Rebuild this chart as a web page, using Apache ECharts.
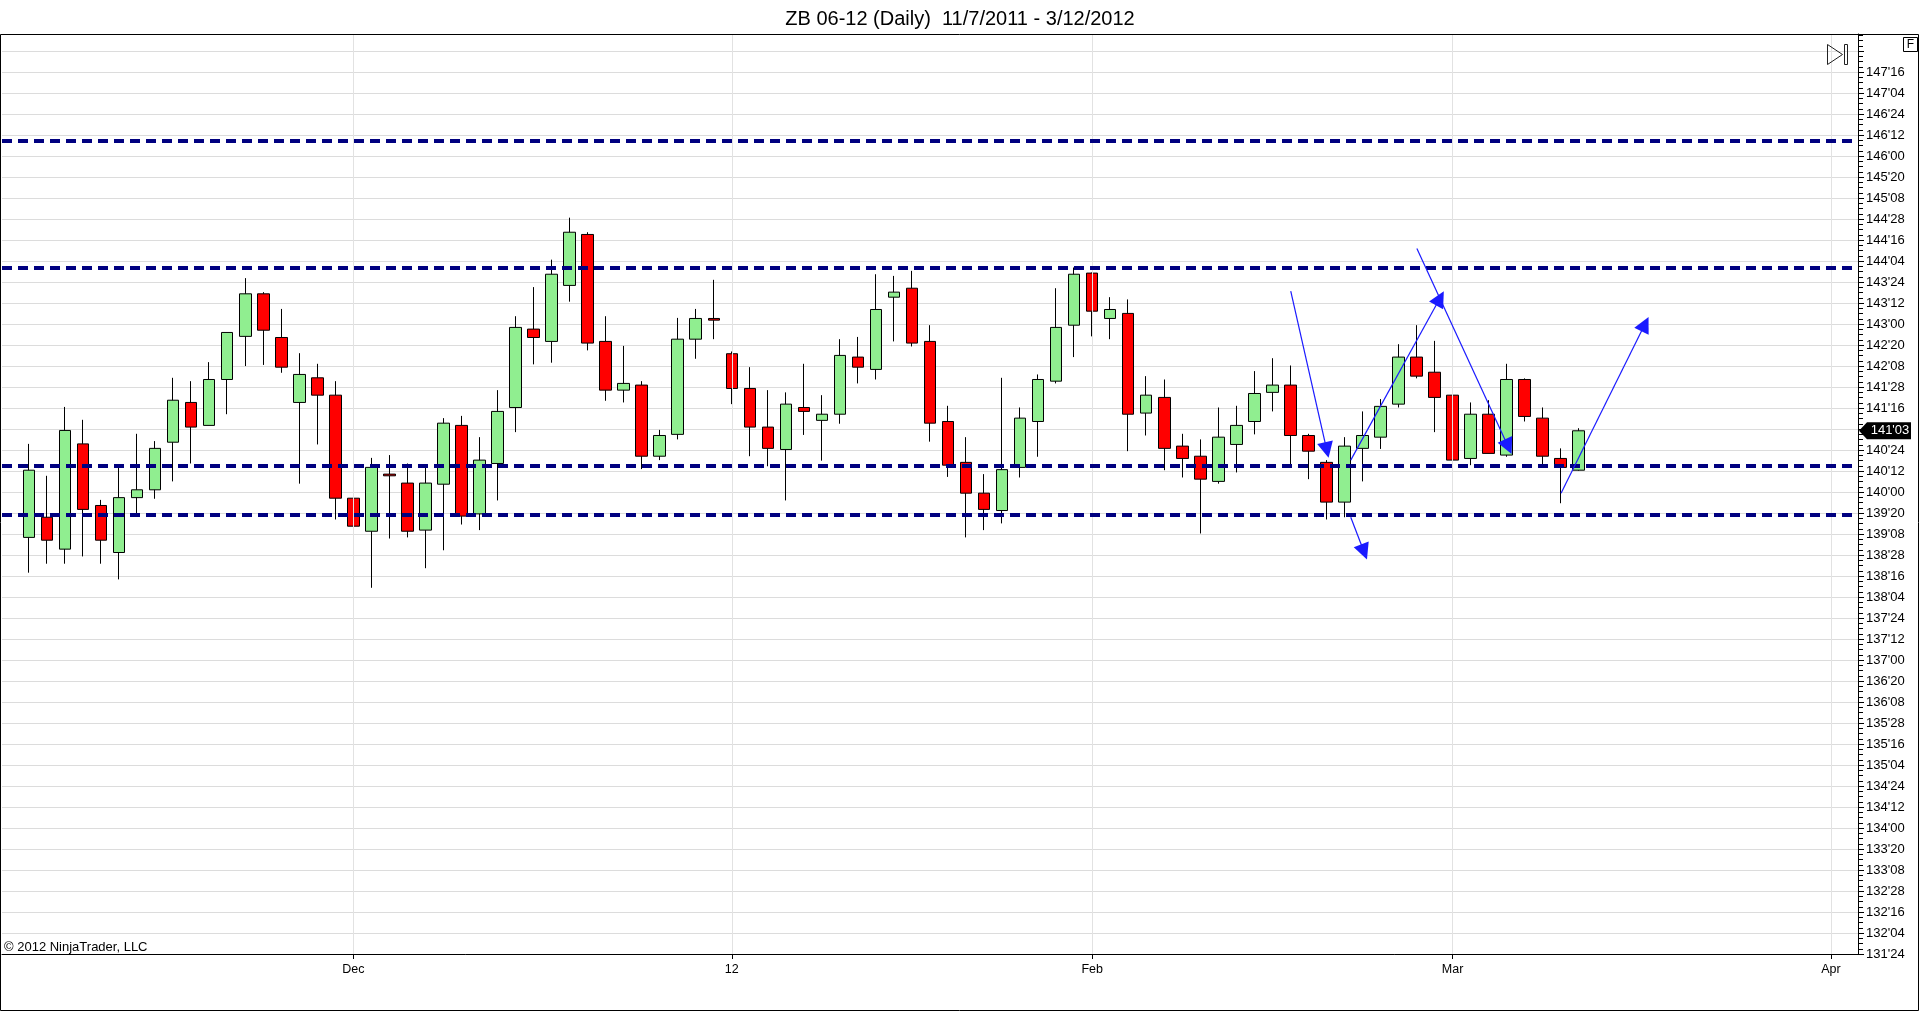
<!DOCTYPE html>
<html><head><meta charset="utf-8">
<script src="https://cdn.jsdelivr.net/npm/echarts@6/dist/echarts.min.js"></script>
<style>html,body{margin:0;padding:0;background:#fff;}#chart{width:1920px;height:1012px;}</style>
</head><body><div id="chart"></div>
<script>
// ---------- data ----------
const leadDates = ['2011-11-04'];
const tradingDates = [
'2011-11-07','2011-11-08','2011-11-09','2011-11-10','2011-11-11','2011-11-14','2011-11-15','2011-11-16','2011-11-17','2011-11-18','2011-11-21','2011-11-22','2011-11-23','2011-11-24','2011-11-25','2011-11-28','2011-11-29','2011-11-30',
'2011-12-01','2011-12-02','2011-12-05','2011-12-06','2011-12-07','2011-12-08','2011-12-09','2011-12-12','2011-12-13','2011-12-14','2011-12-15','2011-12-16','2011-12-19','2011-12-20','2011-12-21','2011-12-22','2011-12-23','2011-12-27','2011-12-28','2011-12-29','2011-12-30',
'2012-01-03','2012-01-04','2012-01-05','2012-01-06','2012-01-09','2012-01-10','2012-01-11','2012-01-12','2012-01-13','2012-01-17','2012-01-18','2012-01-19','2012-01-20','2012-01-23','2012-01-24','2012-01-25','2012-01-26','2012-01-27','2012-01-30','2012-01-31',
'2012-02-01','2012-02-02','2012-02-03','2012-02-06','2012-02-07','2012-02-08','2012-02-09','2012-02-10','2012-02-13','2012-02-14','2012-02-15','2012-02-16','2012-02-17','2012-02-21','2012-02-22','2012-02-23','2012-02-24','2012-02-27','2012-02-28','2012-02-29',
'2012-03-01','2012-03-02','2012-03-05','2012-03-06','2012-03-07','2012-03-08','2012-03-09','2012-03-12'];
const futureDates = ['2012-03-13','2012-03-14','2012-03-15','2012-03-16','2012-03-19','2012-03-20','2012-03-21','2012-03-22','2012-03-23','2012-03-26','2012-03-27','2012-03-28','2012-03-29','2012-04-02','2012-04-03'];

const opens = [139.19,139.55,138.98,140.86,139.76,138.92,139.90,140.04,140.89,141.60,141.19,142.01,142.78,143.54,142.76,141.60,142.04,141.73,
139.89,139.30,140.32,140.16,139.32,140.14,141.19,139.61,140.51,141.51,142.91,142.69,143.69,144.60,142.69,141.82,141.91,140.64,141.03,142.73,143.10,
142.47,141.85,141.16,140.76,141.51,141.28,141.39,142.41,142.19,143.48,143.64,142.69,141.26,140.53,139.98,139.67,140.44,141.26,141.98,142.98,
143.91,143.10,143.19,141.41,141.69,140.82,140.64,140.19,140.85,141.26,141.78,141.91,141.01,140.53,139.82,140.78,140.98,141.57,142.41,142.14,
141.73,140.60,141.39,140.66,142.01,141.32,140.60,140.39];
const highs = [140.86,140.29,141.52,141.29,139.86,140.45,141.04,140.91,142.04,141.98,142.32,142.85,143.82,143.57,143.27,142.48,142.29,141.98,
140.29,140.61,140.66,140.51,140.45,141.32,141.36,140.98,141.82,143.14,143.66,144.15,144.90,144.64,143.14,142.61,141.98,141.11,143.11,143.27,143.79,
142.51,142.23,141.82,141.78,142.29,141.73,142.73,142.77,143.89,143.86,143.95,142.98,141.54,140.98,140.32,142.04,141.51,142.10,143.64,144.01,
143.92,143.48,143.44,142.07,142.01,141.04,140.94,141.51,141.54,142.16,142.39,142.26,141.04,140.57,140.98,141.44,141.66,142.64,142.98,142.70,
141.73,141.60,141.64,142.29,142.03,141.51,140.78,141.14];
const lows = [138.56,138.72,138.72,138.85,138.72,138.44,139.62,139.88,140.19,140.51,141.19,141.39,142.25,142.27,142.13,140.15,140.85,139.51,
138.39,138.29,139.17,139.19,138.64,138.96,139.42,139.32,139.85,141.07,142.28,142.31,143.40,142.53,141.63,141.60,140.41,140.57,140.94,142.38,142.73,
141.57,140.64,140.46,139.85,141.02,140.56,141.22,141.94,142.01,142.69,142.60,140.90,140.27,139.19,139.32,139.44,140.26,140.63,141.94,142.41,
142.78,142.73,140.73,141.01,140.39,140.26,139.26,140.15,140.35,141.03,141.44,140.48,140.23,139.51,139.55,140.19,140.77,141.51,142.03,141.07,
140.03,140.48,140.69,140.63,141.26,140.48,139.80,140.38];
const closes = [140.39,139.14,141.10,139.69,139.14,139.90,140.04,140.78,141.64,141.16,142.01,142.85,143.54,142.89,142.23,142.10,141.73,139.89,
139.39,140.44,140.29,139.30,140.16,141.23,139.57,140.57,141.44,142.94,142.76,143.89,144.64,142.66,141.82,141.94,140.64,141.01,142.73,143.10,143.07,
141.85,141.16,140.78,141.57,141.44,141.39,142.44,142.23,143.26,143.57,142.66,141.23,140.48,139.98,139.69,140.40,141.32,142.01,142.94,143.89,
143.23,143.26,141.39,141.73,140.78,140.60,140.23,140.98,141.19,141.76,141.91,141.01,140.73,139.82,140.82,141.01,141.53,142.41,142.07,141.69,
140.57,141.39,140.69,142.01,141.35,140.64,140.44,141.094];

const monthTickDates = ['2011-12-01','2012-01-03','2012-02-01','2012-03-01','2012-04-02'];
const monthTickLabels = ['Dec','12','Feb','Mar','Apr'];

const supportLevels = [146.28, 144.0, 140.47, 139.59];

// drawn arrows: [bar index, price]
const arrowStarts = [[71.02,143.59],[74.35,139.55],[74.35,140.57],[78.02,144.35],[86.02,139.98]];
const arrowEnds   = [[73.02,140.75],[75.09,138.93],[79.30,143.46],[83.09,140.81],[90.68,143.00]];

const yMin = 131.75, yMax = 148.18, yStep = 0.375;
const titleText = 'ZB 06-12 (Daily)  11/7/2011 - 3/12/2012';

// ---------- build ----------
const FONT = '"Liberation Sans", Arial, sans-serif';
const categories = leadDates.concat(tradingDates, futureDates);
const candleData = leadDates.map(() => '-')
  .concat(tradingDates.map((d, i) => [opens[i], closes[i], lows[i], highs[i]]))
  .concat(futureDates.map(() => '-'));
const lastClose = closes[closes.length - 1];

function fmt32(v) {
  let w = Math.floor(v + 1e-9);
  let t = Math.round((v - w) * 32);
  if (t === 32) { w += 1; t = 0; }
  return w + "'" + String(t).padStart(2, '0');
}
const isMonthTick = (idx, val) => monthTickDates.indexOf(val) >= 0;

const chart = echarts.init(document.getElementById('chart'), null, {renderer: 'canvas'});
chart.setOption({
  animation: false,
  backgroundColor: '#ffffff',
  textStyle: {fontFamily: FONT},
  title: {
    text: titleText, left: 'center', top: 4,
    textStyle: {fontFamily: FONT, fontSize: 20, fontWeight: 'normal', color: '#000'}
  },
  grid: {left: 2, right: 62, top: 34, bottom: 58, containLabel: false, outerBoundsMode: 'none'},
  xAxis: [{
    type: 'category', data: categories, boundaryGap: true,
    axisLine: {show: true, onZero: false, lineStyle: {color: '#000', width: 1}},
    axisTick: {show: true, alignWithLabel: true, interval: isMonthTick, length: 5, lineStyle: {color: '#000'}},
    axisLabel: {
      show: true, interval: isMonthTick, margin: 9, color: '#000', fontSize: 12.5, fontFamily: FONT,
      formatter: (v) => { const i = monthTickDates.indexOf(v); return i >= 0 ? monthTickLabels[i] : ''; }
    },
    splitLine: {show: false}
  }, {
    type: 'value', min: -0.5, max: categories.length - 0.5, show: false,
    axisLine: {onZero: false}
  }],
  yAxis: {
    type: 'value', position: 'right', min: yMin, max: yMax, interval: yStep, scale: true,
    axisLine: {show: true, onZero: false, lineStyle: {color: '#000', width: 1}},
    axisTick: {show: true, length: 6, lineStyle: {color: '#000'}},
    minorTick: {show: true, splitNumber: 4, length: 5, lineStyle: {color: '#000'}},
    axisLabel: {
      show: true, margin: 8, color: '#000', fontSize: 13, fontFamily: FONT,
      showMaxLabel: false, showMinLabel: true,
      formatter: (v) => v > 147.6 ? '' : fmt32(v)
    },
    splitLine: {show: true, lineStyle: {color: '#dcdcdc', width: 1}},
    minorSplitLine: {show: false}
  },
  series: [
    {
      type: 'line', data: [], z: 1, silent: true,
      markLine: {
        silent: true, symbol: 'none', animation: false, label: {show: false},
        lineStyle: {color: '#e2e2e2', type: 'solid', width: 1},
        data: monthTickDates.map(d => ({xAxis: d}))
      }
    },
    {
      type: 'candlestick', data: candleData, barWidth: 12, z: 3,
      itemStyle: {color: '#90EE90', color0: '#FF0000', borderColor: '#000', borderColor0: '#000', borderWidth: 1}
    },
    {
      type: 'line', data: [], z: 5, silent: true,
      markLine: {
        silent: true, symbol: 'none', animation: false, label: {show: false},
        lineStyle: {color: '#000080', type: [10, 6], width: 4},
        data: supportLevels.map(v => ({yAxis: v}))
      }
    },
    {
      type: 'lines', coordinateSystem: 'cartesian2d', xAxisIndex: 1, yAxisIndex: 0, z: 6,
      symbol: ['none', 'triangle'], symbolSize: 16,
      lineStyle: {color: '#1a1aff', width: 1.2, opacity: 1, curveness: 0},
      data: arrowStarts.map((s, i) => ({coords: [s, arrowEnds[i]]}))
    }
  ]
});

const py = chart.convertToPixel({yAxisIndex: 0}, lastClose);
chart.setOption({
  graphic: [
    {type: 'rect', z: 100, silent: true, shape: {x: 0.5, y: 34.5, width: 1918, height: 976},
     style: {fill: 'none', stroke: '#000', lineWidth: 1}},
    {type: 'polygon', z: 100, silent: true, shape: {points: [[1827.5, 44.5], [1842.5, 54.5], [1827.5, 64.5]]},
     style: {fill: 'none', stroke: '#222', lineWidth: 1}},
    {type: 'rect', z: 100, silent: true, shape: {x: 1844.5, y: 44.5, width: 3, height: 20},
     style: {fill: 'none', stroke: '#222', lineWidth: 1}},
    {type: 'rect', z: 100, silent: true, shape: {x: 1903.5, y: 37.5, width: 14, height: 14},
     style: {fill: '#fff', stroke: '#000', lineWidth: 1}},
    {type: 'text', z: 101, silent: true, x: 1910.5, y: 45,
     style: {text: 'F', fill: '#000', font: '12px ' + FONT, align: 'center', verticalAlign: 'middle'}},
    {type: 'text', z: 100, silent: true, x: 4, y: 947,
     style: {text: '\u00A9 2012 NinjaTrader, LLC', fill: '#000', font: '13px ' + FONT, align: 'left', verticalAlign: 'middle'}},
    {type: 'group', z: 100, x: 1859, y: py, silent: true, children: [
      {type: 'polygon', z: 100, shape: {points: [[0, 0], [8, -8.5], [52, -8.5], [52, 8.5], [8, 8.5]]},
       style: {fill: '#000'}},
      {type: 'text', z: 101, x: 31, y: 0,
       style: {text: fmt32(lastClose), fill: '#fff', font: '13px ' + FONT, align: 'center', verticalAlign: 'middle'}}
    ]}
  ]
});
</script>
</body></html>
